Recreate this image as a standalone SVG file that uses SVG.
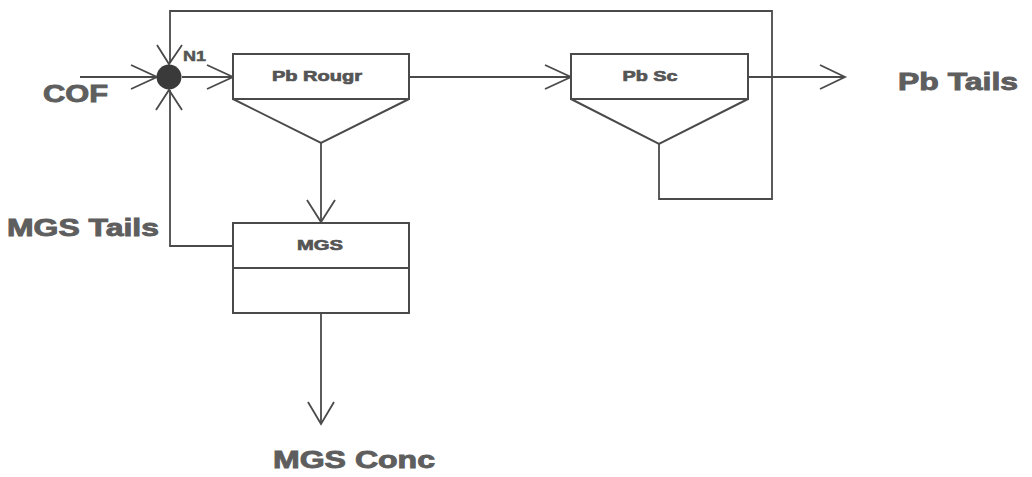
<svg xmlns="http://www.w3.org/2000/svg" width="1032" height="477" viewBox="0 0 1032 477">
<style>
.ln{fill:none;stroke:#4a4a4a;stroke-width:1.8;stroke-linejoin:miter;stroke-linecap:butt}
.ah{fill:none;stroke:#4a4a4a;stroke-width:1.8}
.box{fill:#ffffff;stroke:#4a4a4a;stroke-width:2}
.lab{font-family:"Liberation Sans",Arial,sans-serif;font-weight:bold;font-size:24px;fill:#5e5e5e;stroke:#5e5e5e;stroke-width:0.9}
.blab{font-family:"Liberation Sans",Arial,sans-serif;font-weight:bold;font-size:15px;fill:#555555;stroke:#555555;stroke-width:0.7;text-anchor:middle}
.nlab{font-family:"Liberation Sans",Arial,sans-serif;font-weight:bold;font-size:14px;fill:#555555;stroke:#555555;stroke-width:0.5}
</style>
<rect width="1032" height="477" fill="#ffffff"/>
<g id="connectors">
  <polyline class="ln" points="659,144 659,199 772,199 772,11 170,11 170,63"/>
  <polyline class="ah" points="157,45 169,64 182,45"/>
  <line class="ln" x1="80" y1="77" x2="157" y2="77"/>
  <polyline class="ah" points="131,65 157,77 131,89"/>
  <polyline class="ln" points="233,246 170,246 170,90"/>
  <polyline class="ah" points="156,110 169,90 182,110"/>
  <line class="ln" x1="182" y1="77" x2="233" y2="77"/>
  <polyline class="ah" points="207,65 233,77 207,89"/>
  <line class="ln" x1="409" y1="77" x2="571" y2="77"/>
  <polyline class="ah" points="545,65 571,77 545,89"/>
  <line class="ln" x1="748" y1="77" x2="845" y2="77"/>
  <polyline class="ah" points="820,65 845,77 820,89"/>
  <line class="ln" x1="321" y1="143" x2="321" y2="223"/>
  <polyline class="ah" points="307,200 321,222 335,200"/>
  <line class="ln" x1="321" y1="313" x2="321" y2="424"/>
  <polyline class="ah" points="308,402 321,424 334,402"/>
</g>
<g id="N1">
  <circle cx="169" cy="77" r="12.5" fill="#3a3a3a"/>
  <text class="nlab" x="183" y="61" textLength="23" lengthAdjust="spacingAndGlyphs">N1</text>
</g>
<g id="PbRougr">
  <rect class="box" x="233" y="54" width="176" height="45"/>
  <polygon class="box" points="233,99 409,99 321,143"/>
  <text class="blab" x="317" y="81" textLength="90" lengthAdjust="spacingAndGlyphs">Pb Rougr</text>
</g>
<g id="PbSc">
  <rect class="box" x="571" y="54" width="177" height="45"/>
  <polygon class="box" points="571,99 748,99 659,144"/>
  <text class="blab" x="650" y="81" textLength="55" lengthAdjust="spacingAndGlyphs">Pb Sc</text>
</g>
<g id="MGS">
  <rect class="box" x="233" y="223" width="176" height="90"/>
  <line class="box" x1="233" y1="268" x2="409" y2="268" stroke-width="2.5"/>
  <text class="blab" x="320" y="250" textLength="46" lengthAdjust="spacingAndGlyphs">MGS</text>
</g>
<g id="labels">
  <text class="lab" x="43" y="102" textLength="65" lengthAdjust="spacingAndGlyphs">COF</text>
  <text class="lab" x="7" y="236" textLength="152" lengthAdjust="spacingAndGlyphs">MGS Tails</text>
  <text class="lab" x="898" y="90" textLength="120" lengthAdjust="spacingAndGlyphs">Pb Tails</text>
  <text class="lab" x="273" y="468" textLength="162" lengthAdjust="spacingAndGlyphs">MGS Conc</text>
</g>
</svg>
